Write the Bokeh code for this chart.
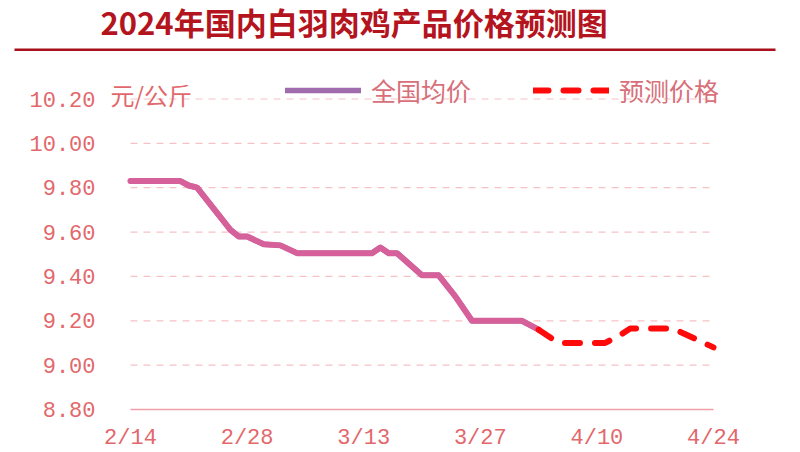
import pandas as pd
from bokeh.plotting import figure
from bokeh.models import (ColumnDataSource, FixedTicker, PrintfTickFormatter, Legend,
                          LegendItem, Label, BoxAnnotation, Range1d)
from bokeh.embed import file_html
from bokeh.resources import INLINE

# ---- data ----
actual_dates = ["2/14", "2/20", "2/21", "2/22", "2/26", "2/27", "2/28", "3/1", "3/3", "3/5",
                "3/14", "3/15", "3/16", "3/17", "3/20", "3/22", "3/24", "3/26", "4/1", "4/3"]
actual_vals = [9.83, 9.83, 9.81, 9.80, 9.61, 9.58, 9.58, 9.545, 9.54, 9.505,
               9.505, 9.53, 9.505, 9.505, 9.405, 9.405, 9.31, 9.20, 9.20, 9.16]
forecast_dates = ["4/3", "4/5", "4/6", "4/11", "4/13", "4/14", "4/19", "4/20", "4/24"]
forecast_vals = [9.16, 9.11, 9.10, 9.10, 9.14, 9.165, 9.165, 9.15, 9.08]
x_tick_labels = ["2/14", "2/28", "3/13", "3/27", "4/10", "4/24"]
y_ticks = [8.80, 9.00, 9.20, 9.40, 9.60, 9.80, 10.00, 10.20]

title_text = "2024年国内白羽肉鸡产品价格预测图"
unit_text = "元/公斤"
series_names = ["全国均价", "预测价格"]

start = pd.Timestamp("2024-02-14")


def to_day(labels):
    return [(pd.Timestamp(f"2024-{d.replace('/', '-')}") - start).days for d in labels]


src_a = ColumnDataSource(dict(x=to_day(actual_dates), y=actual_vals))
src_f = ColumnDataSource(dict(x=to_day(forecast_dates), y=forecast_vals))
tick_pos = to_day(x_tick_labels)

# ---- layout (canvas pixels) ----
W, H = 800, 452
PX0, PX1 = 130.0, 713.0      # where first / last x tick sit
PY_TOP, PY_BOT = 98.5, 409.0  # where top / bottom y tick sit
x0, x1 = tick_pos[0], tick_pos[-1]
y0, y1 = y_ticks[0], y_ticks[-1]
kx = (x1 - x0) / (PX1 - PX0)
ky = (y1 - y0) / (PY_BOT - PY_TOP)
x_range = Range1d(x0 - PX0 * kx, x1 + (W - PX1) * kx)
y_range = Range1d(y0 - (H - PY_BOT) * ky, y1 + PY_TOP * ky)

p = figure(width=W, height=H, output_backend="svg", toolbar_location=None,
           x_range=x_range, y_range=y_range, min_border=0)
p.outline_line_color = None
p.background_fill_color = "white"
p.border_fill_color = "white"

TICK_COLOR = "#e2686c"
MONO = "Liberation Mono"
CJK = "Noto Sans CJK SC"

# axes drawn inside the frame
p.xaxis.fixed_location = y0
p.xaxis.bounds = (x0, x1)
p.xaxis.ticker = FixedTicker(ticks=tick_pos)
p.xaxis.major_label_overrides = {t: l for t, l in zip(tick_pos, x_tick_labels)}
p.xaxis.axis_line_color = "#f0a0a6"
p.xaxis.axis_line_width = 1.5
p.xaxis.major_tick_line_color = None
p.xaxis.minor_tick_line_color = None
p.xaxis.major_tick_out = 0
p.xaxis.major_label_text_font = MONO
p.xaxis.major_label_text_font_size = "22px"
p.xaxis.major_label_text_color = TICK_COLOR
p.xaxis.major_label_standoff = 16

p.yaxis.fixed_location = x0
p.yaxis.ticker = FixedTicker(ticks=y_ticks)
p.yaxis.formatter = PrintfTickFormatter(format="%.2f")
p.yaxis.axis_line_color = None
p.yaxis.major_tick_line_color = None
p.yaxis.minor_tick_line_color = None
p.yaxis.major_tick_out = 0
p.yaxis.major_label_text_font = MONO
p.yaxis.major_label_text_font_size = "22px"
p.yaxis.major_label_text_color = TICK_COLOR
p.yaxis.major_label_standoff = 35

p.xgrid.grid_line_color = None
p.ygrid.grid_line_color = None

# horizontal dashed grid lines between first and last date
grid_src = ColumnDataSource(dict(x0=[x0] * (len(y_ticks) - 1), x1=[x1] * (len(y_ticks) - 1),
                                 y=y_ticks[1:]))
p.segment(x0="x0", y0="y", x1="x1", y1="y", source=grid_src, line_color="#f6c2c6",
          line_width=1.2, line_dash="7 6")

# purple copy of the actual line (hidden under the pink line) supplies the legend swatch
leg_a = p.line("x", "y", source=src_a, line_color="#a06cae", line_width=5.5,
               line_join="round", line_cap="round")
p.line("x", "y", source=src_a, line_color="#d6609a", line_width=6, line_join="round",
       line_cap="round")
leg_f = p.line("x", "y", source=src_f, line_color="#ff0a0a", line_width=6, line_dash="15 15",
               line_join="round", line_cap="round")

legend = Legend(items=[LegendItem(label=series_names[0], renderers=[leg_a]),
                       LegendItem(label=series_names[1], renderers=[leg_f])],
                orientation="horizontal", location=(285, H - 108),
                glyph_width=76, glyph_height=20, label_standoff=10, spacing=62,
                padding=0, margin=0, border_line_color=None, background_fill_alpha=0,
                label_text_font=CJK, label_text_font_size="25px", label_text_color="#d8707a")
p.add_layout(legend, "center")

# unit label
p.add_layout(Label(x=110, y=H - 94, x_units="screen", y_units="screen", text=unit_text,
                   text_font=CJK, text_font_size="24px", text_color=TICK_COLOR,
                   text_baseline="middle", text_align="left"))

# title and rule
p.add_layout(Label(x=100, y=H - 21, x_units="screen", y_units="screen", text=title_text,
                   text_font=CJK, text_font_size="31px", text_font_style="bold",
                   text_color="#b4141e", text_baseline="middle", text_align="left"))
p.add_layout(BoxAnnotation(left=14, right=775, bottom=H - 50.5, top=H - 48,
                           left_units="screen", right_units="screen",
                           bottom_units="screen", top_units="screen",
                           fill_color="#a8101c", fill_alpha=1, line_color=None))

open("out.html", "w").write(file_html(p, INLINE))
